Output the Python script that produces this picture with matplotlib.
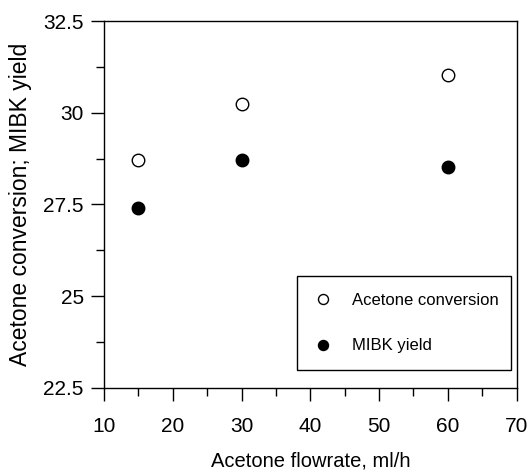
import matplotlib
matplotlib.use("Agg")
import numpy as np
import matplotlib.pyplot as plt
from matplotlib.ticker import MultipleLocator

plt.rcParams['font.family'] = ['Liberation Sans', 'DejaVu Sans']

flowrate = [15, 30, 60]
acetone_conv = [28.72, 30.24, 31.02]
mibk_yield = [27.41, 28.72, 28.52]

fig = plt.figure(figsize=(5.29, 4.70), dpi=100)
ax = fig.add_axes([0.1966, 0.1745, 0.7798, 0.7808])

ax.plot(flowrate, acetone_conv, 'o', ms=9, mfc='white', mec='black', mew=1.0,
        ls='none', label='Acetone conversion')
ax.plot(flowrate, mibk_yield, 'o', ms=9, mfc='black', mec='black', mew=1.0,
        ls='none', label='MIBK yield')

ax.set_xlim(10, 70)
ax.set_ylim(22.5, 32.5)
ax.xaxis.set_major_locator(MultipleLocator(10))
ax.xaxis.set_minor_locator(MultipleLocator(5))
ax.yaxis.set_major_locator(MultipleLocator(2.5))
ax.yaxis.set_minor_locator(MultipleLocator(1.25))
ax.set_yticks([22.5, 25, 27.5, 30, 32.5])
ax.set_yticklabels(['22.5', '25', '27.5', '30', '32.5'])

ax.tick_params(which='major', direction='out', length=9.5, width=1.0,
               labelsize=15, top=False, right=False)
ax.tick_params(axis='x', which='major', pad=11.5)
ax.tick_params(axis='y', which='major', pad=5)
ax.tick_params(which='minor', direction='out', length=6, width=1.0,
               top=False, right=False)
for s in ax.spines.values():
    s.set_linewidth(1.0)

ax.set_xlabel('Acetone flowrate, ml/h', fontsize=14.5, labelpad=11)
ax.set_ylabel('Acetone conversion; MIBK yield', fontsize=16.5, labelpad=8)

leg = ax.legend(loc='lower left', bbox_to_anchor=(0.467, 0.049, 0.519, 0.266),
                mode='expand', fontsize=12, frameon=True, fancybox=False,
                edgecolor='black', framealpha=1, borderpad=1.0,
                labelspacing=1.85, handlelength=1.15, handletextpad=1.2,
                markerscale=0.8, borderaxespad=0)
leg.get_frame().set_linewidth(1.0)

fig.savefig('out.png', dpi=100)
